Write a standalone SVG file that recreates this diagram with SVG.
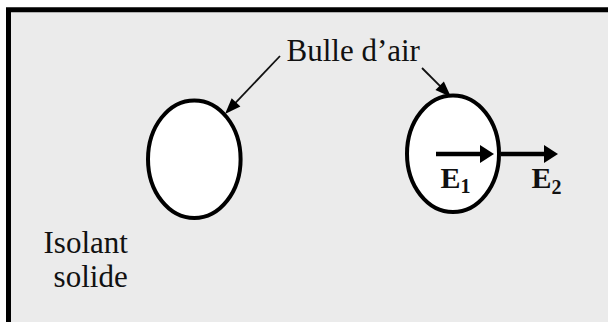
<svg xmlns="http://www.w3.org/2000/svg" width="609" height="324" viewBox="0 0 609 324">
<style>
.t{font-family:"Liberation Serif","Times New Roman",serif;fill:#111;}
.lbl{font-size:31px;}
.e{font-size:30px;font-weight:bold;}
.sub{font-size:20px;font-weight:bold;}
.bub{fill:#fff;stroke:#000;stroke-width:4;}
.lead{stroke:#111;stroke-width:1.8;fill:none;}
.field{stroke:#000;stroke-width:4.5;fill:none;}
</style>
<defs>
<marker id="mLead" markerUnits="userSpaceOnUse" markerWidth="16" markerHeight="12" refX="6" refY="6" orient="auto" overflow="visible">
<path d="M0,0 L16,6 L0,12 Z" fill="#000"/>
</marker>
<marker id="mField" markerUnits="userSpaceOnUse" markerWidth="14" markerHeight="18" refX="4" refY="9" orient="auto" overflow="visible">
<path d="M0,0 L14,9 L0,18 Z" fill="#000"/>
</marker>
</defs>
<rect x="0" y="0" width="609" height="324" fill="#fff"/>
<g id="frame">
<rect x="8" y="9" width="600" height="313" fill="#ebebeb"/>
<path d="M8.5 322 V9.8 H608" fill="none" stroke="#000" stroke-width="5"/>
</g>
<g id="bubble-left">
<ellipse class="bub" cx="194.3" cy="159.2" rx="46.3" ry="58.8"/>
</g>
<g id="bubble-right">
<ellipse class="bub" cx="453" cy="153.7" rx="46" ry="58.3"/>
</g>
<g id="label-bulle">
<text class="t lbl" x="286.5" y="60.7">Bulle d’air</text>
</g>
<g id="label-isolant">
<text class="t lbl" x="43.5" y="252.7">Isolant</text>
<text class="t lbl" x="53.6" y="287.3">solide</text>
</g>
<g id="label-e1">
<text class="t e" x="440.5" y="188.3">E<tspan class="sub" dy="5">1</tspan></text>
</g>
<g id="label-e2">
<text class="t e" x="531.5" y="188.3">E<tspan class="sub" dy="6">2</tspan></text>
</g>
<g id="connectors">
<line class="lead" x1="280" y1="56" x2="231.9" y2="106.7" marker-end="url(#mLead)"/>
<line class="lead" x1="422" y1="68" x2="443.9" y2="89.9" marker-end="url(#mLead)"/>
<line class="field" x1="436" y1="154" x2="484" y2="154" marker-end="url(#mField)"/>
<line class="field" x1="501" y1="154" x2="548" y2="154" marker-end="url(#mField)"/>
</g>
</svg>
